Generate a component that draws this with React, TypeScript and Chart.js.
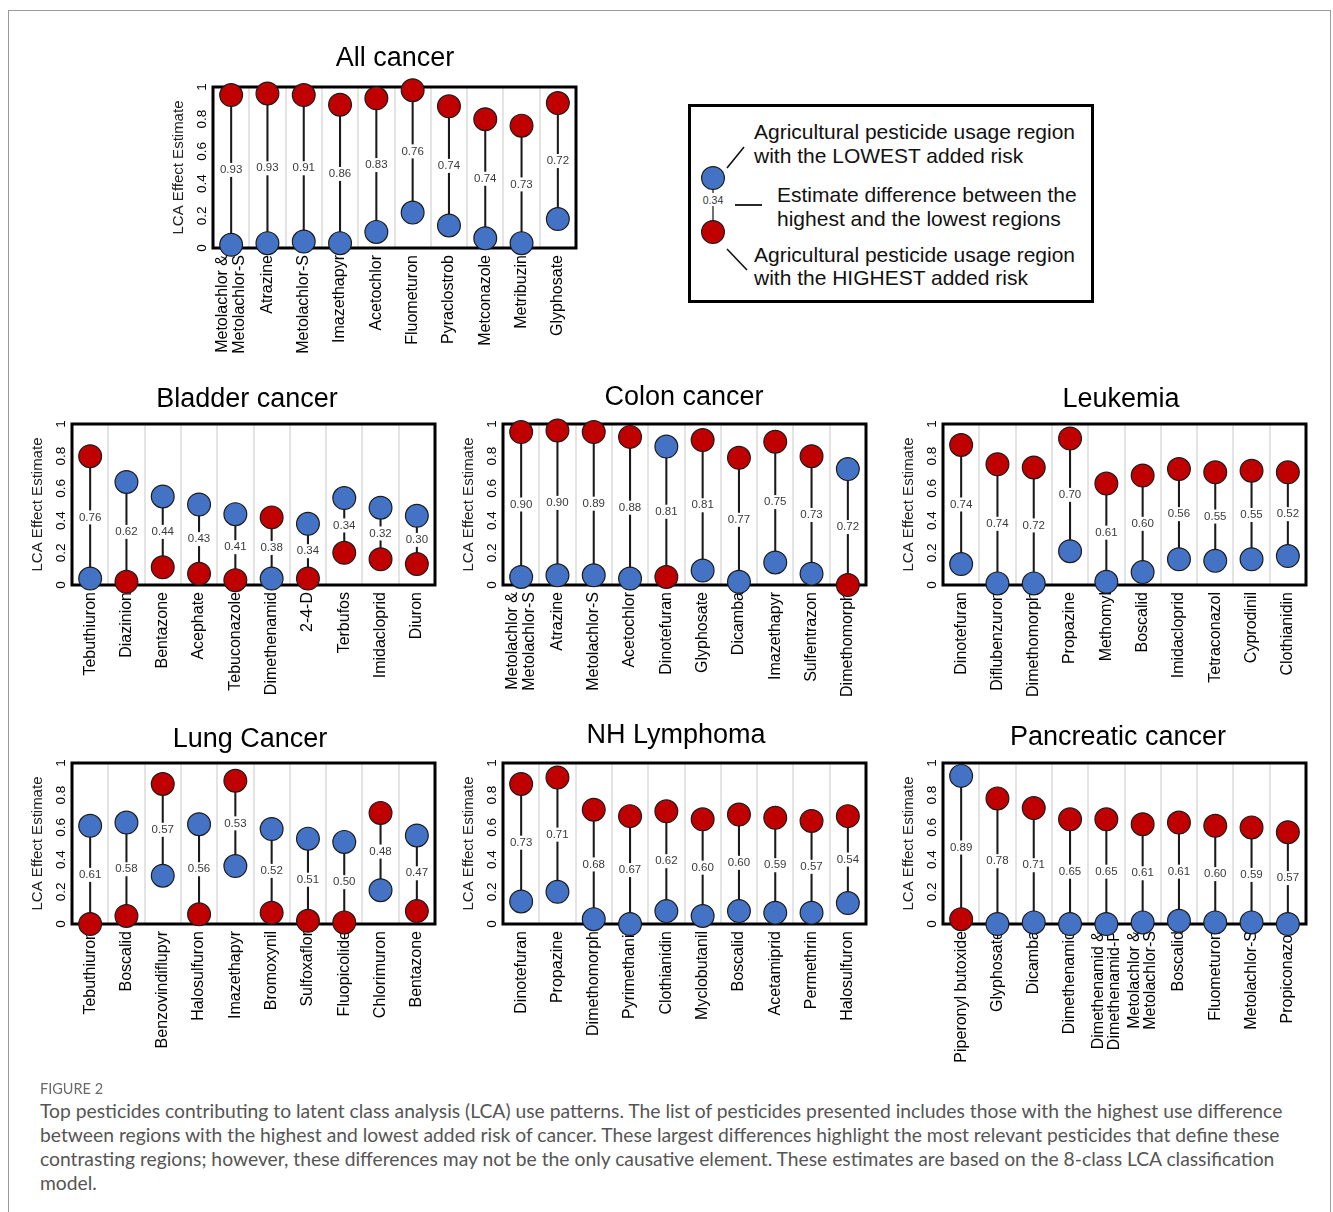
import { useEffect, useRef } from 'react';
import { Chart, registerables } from 'chart.js';

Chart.register(...registerables);

const FONT = "'Liberation Sans', Arial, Helvetica, sans-serif";
Chart.defaults.font.family = FONT;

type Label = string | string[];

const BLUE = '#4472C4'; // region with the lowest added risk
const RED = '#C00000'; // region with the highest added risk

// ---- All cancer ----
const allLabels: Label[] = [['Metolachlor &', 'Metolachlor-S'], 'Atrazine', 'Metolachlor-S', 'Imazethapyr', 'Acetochlor', 'Fluometuron', 'Pyraclostrob', 'Metconazole', 'Metribuzin', 'Glyphosate'];
const allLow = [0.02, 0.03, 0.04, 0.03, 0.1, 0.22, 0.14, 0.06, 0.03, 0.18];
const allHigh = [0.95, 0.96, 0.95, 0.89, 0.93, 0.98, 0.88, 0.8, 0.76, 0.9];
const allDiff = [0.93, 0.93, 0.91, 0.86, 0.83, 0.76, 0.74, 0.74, 0.73, 0.72];

// ---- Bladder cancer ----
const bladderLabels: Label[] = ['Tebuthiuron', 'Diazinion', 'Bentazone', 'Acephate', 'Tebuconazole', 'Dimethenamid', '2-4-D', 'Terbufos', 'Imidacloprid', 'Diuron'];
const bladderLow = [0.04, 0.64, 0.55, 0.5, 0.44, 0.04, 0.38, 0.54, 0.48, 0.43];
const bladderHigh = [0.8, 0.02, 0.11, 0.07, 0.03, 0.42, 0.04, 0.2, 0.16, 0.13];
const bladderDiff = [0.76, 0.62, 0.44, 0.43, 0.41, 0.38, 0.34, 0.34, 0.32, 0.3];

// ---- Colon cancer ----
const colonLabels: Label[] = [['Metolachlor &', 'Metolachlor-S'], 'Atrazine', 'Metolachlor-S', 'Acetochlor', 'Dinotefuran', 'Glyphosate', 'Dicamba', 'Imazethapyr', 'Sulfentrazon', 'Dimethomorph'];
const colonLow = [0.05, 0.06, 0.06, 0.04, 0.86, 0.09, 0.02, 0.14, 0.07, 0.72];
const colonHigh = [0.95, 0.96, 0.95, 0.92, 0.05, 0.9, 0.79, 0.89, 0.8, 0.0];
const colonDiff = [0.9, 0.9, 0.89, 0.88, 0.81, 0.81, 0.77, 0.75, 0.73, 0.72];

// ---- Leukemia ----
const leukLabels: Label[] = ['Dinotefuran', 'Diflubenzuron', 'Dimethomorph', 'Propazine', 'Methomyl', 'Boscalid', 'Imidacloprid', 'Tetraconazol', 'Cyprodinil', 'Clothianidin'];
const leukLow = [0.13, 0.01, 0.01, 0.21, 0.02, 0.08, 0.16, 0.15, 0.16, 0.18];
const leukHigh = [0.87, 0.75, 0.73, 0.91, 0.63, 0.68, 0.72, 0.7, 0.71, 0.7];
const leukDiff = [0.74, 0.74, 0.72, 0.7, 0.61, 0.6, 0.56, 0.55, 0.55, 0.52];

// ---- Lung Cancer ----
const lungLabels: Label[] = ['Tebuthiuron', 'Boscalid', 'Benzovindiflupyr', 'Halosulfuron', 'Imazethapyr', 'Bromoxynil', 'Sulfoxaflor', 'Fluopicolide', 'Chlorimuron', 'Bentazone'];
const lungLow = [0.61, 0.63, 0.3, 0.62, 0.36, 0.59, 0.53, 0.51, 0.21, 0.55];
const lungHigh = [0.0, 0.05, 0.87, 0.06, 0.89, 0.07, 0.02, 0.01, 0.69, 0.08];
const lungDiff = [0.61, 0.58, 0.57, 0.56, 0.53, 0.52, 0.51, 0.5, 0.48, 0.47];

// ---- NH Lymphoma ----
const nhLabels: Label[] = ['Dinotefuran', 'Propazine', 'Dimethomorph', 'Pyrimethanil', 'Clothianidin', 'Myclobutanil', 'Boscalid', 'Acetamiprid', 'Permethrin', 'Halosulfuron'];
const nhLow = [0.14, 0.2, 0.03, 0.0, 0.08, 0.05, 0.08, 0.07, 0.07, 0.13];
const nhHigh = [0.87, 0.91, 0.71, 0.67, 0.7, 0.65, 0.68, 0.66, 0.64, 0.67];
const nhDiff = [0.73, 0.71, 0.68, 0.67, 0.62, 0.6, 0.6, 0.59, 0.57, 0.54];

// ---- Pancreatic cancer ----
const pancLabels: Label[] = ['Piperonyl butoxide', 'Glyphosate', 'Dicamba', 'Dimethenamid', ['Dimethenamid &', 'Dimethenamid-P'], ['Metolachlor &', 'Metolachlor-S'], 'Boscalid', 'Fluometuron', 'Metolachlor-S', 'Propiconazol'];
const pancLow = [0.92, 0.0, 0.01, 0.0, 0.0, 0.01, 0.02, 0.01, 0.01, 0.0];
const pancHigh = [0.03, 0.78, 0.72, 0.65, 0.65, 0.62, 0.63, 0.61, 0.6, 0.57];
const pancDiff = [0.89, 0.78, 0.71, 0.65, 0.65, 0.61, 0.61, 0.6, 0.59, 0.57];

const yTicks = [0, 0.2, 0.4, 0.6, 0.8, 1];

// layout of one panel (plot box size, room for axes)
const BOX_W = 363;
const BOX_H = 161;
const Y_AXIS_W = 45;
const X_AXIS_H = 150;
const TITLE_SIZE = 27;

interface PanelProps {
  title: string;
  labels: Label[];
  low: number[];
  high: number[];
  diff: number[];
  left: number;
  top: number;
  titleX: number;
  titleY: number;
}

const Panel = ({ title, labels, low, high, diff, left, top, titleX, titleY }: PanelProps) => {
  const canvasRef = useRef<HTMLCanvasElement>(null);
  const chartRef = useRef<Chart | null>(null);

  const canvasLeft = Math.round(left - Y_AXIS_W);
  const canvasTop = Math.round(titleY - TITLE_SIZE * 0.6);
  const width = Math.round(2 * (titleX - canvasLeft));
  const height = Math.round(top - canvasTop + BOX_H + X_AXIS_H);

  useEffect(() => {
    if (!canvasRef.current) return;
    const padRight = width - Y_AXIS_W - BOX_W;
    const titleGap = top - canvasTop - TITLE_SIZE * 1.2;

    // thick frame round the plot area, under the points
    const boxPlugin = {
      id: 'panelBox',
      beforeDatasetsDraw(chart: Chart) {
        const { ctx, chartArea: a } = chart;
        ctx.save();
        ctx.strokeStyle = '#000';
        ctx.lineWidth = 3;
        ctx.strokeRect(a.left, a.top, a.right - a.left, a.bottom - a.top);
        ctx.restore();
      },
    };

    // difference labels on the connecting lines (drawn before the circles)
    const diffPlugin = {
      id: 'diffLabels',
      afterDatasetDraw(chart: Chart, args: { index: number }) {
        if (args.index !== 0) return;
        const { ctx } = chart;
        const xs = chart.scales.x;
        const ys = chart.scales.y;
        ctx.save();
        ctx.font = `11.5px ${FONT}`;
        ctx.textAlign = 'center';
        ctx.textBaseline = 'middle';
        diff.forEach((d, i) => {
          const x = xs.getPixelForValue(i);
          const y = ys.getPixelForValue((low[i] + high[i]) / 2);
          const t = d.toFixed(2);
          const w = ctx.measureText(t).width + 2;
          ctx.fillStyle = '#fff';
          ctx.fillRect(x - w / 2, y - 7, w, 14);
          ctx.fillStyle = '#3a3a3a';
          ctx.fillText(t, x, y);
        });
        ctx.restore();
      },
    };

    // centre two-line rotated tick labels on their tick
    const centreLabels = {
      id: 'centreLabels',
      beforeDraw(chart: Chart) {
        const xs: any = chart.scales.x;
        xs.getLabelItems().forEach((it: any) => {
          if (Array.isArray(it.label) && it.label.length > 1 && !it._moved) {
            it.options.translation[0] -= ((it.label.length - 1) * it.font.lineHeight) / 2;
            it._moved = true;
          }
        });
      },
    };

    chartRef.current = new Chart(canvasRef.current, {
      type: 'bar',
      data: {
        labels,
        datasets: [
          {
            type: 'bar',
            data: low.map((v, i) => [v, high[i]]),
            backgroundColor: '#1a1a1a',
            borderWidth: 0,
            barThickness: 1.4,
            order: 5,
          } as any,
          {
            type: 'line',
            data: high,
            showLine: false,
            pointRadius: 11.4,
            pointHoverRadius: 11.4,
            pointBackgroundColor: RED,
            pointBorderColor: '#1c1c1c',
            pointBorderWidth: 1.2,
            clip: false,
            order: 2,
          },
          {
            type: 'line',
            data: low,
            showLine: false,
            pointRadius: 11.4,
            pointHoverRadius: 11.4,
            pointBackgroundColor: BLUE,
            pointBorderColor: '#1c1c1c',
            pointBorderWidth: 1.2,
            clip: false,
            order: 1,
          },
        ],
      },
      options: {
        responsive: false,
        animation: false,
        events: [],
        layout: { autoPadding: false, padding: 0 },
        plugins: {
          legend: { display: false },
          tooltip: { enabled: false },
          title: {
            display: true,
            text: title,
            color: '#000',
            font: { size: TITLE_SIZE, weight: 'normal', lineHeight: 1.2 },
            padding: { top: 0, bottom: titleGap },
          },
        },
        scales: {
          x: {
            type: 'category',
            offset: true,
            grid: { offset: true, color: '#e4e4e4', lineWidth: 2, drawTicks: false },
            border: { display: false },
            ticks: {
              autoSkip: false,
              minRotation: 90,
              maxRotation: 90,
              padding: 7,
              color: '#000',
              font: { size: 16, lineHeight: 1.02 },
            },
            afterFit: (s: any) => {
              s.height = X_AXIS_H;
            },
          },
          y: {
            type: 'linear',
            min: 0,
            max: 1,
            grid: { display: false, drawTicks: false },
            border: { display: false },
            afterBuildTicks: (s: any) => {
              s.ticks = yTicks.map((v) => ({ value: v }));
            },
            ticks: {
              minRotation: 90,
              maxRotation: 90,
              crossAlign: 'center',
              padding: 1.5,
              color: '#000',
              font: { size: 13.5 },
              callback: (v: any) => String(Number(Number(v).toFixed(1))),
            },
            title: {
              display: true,
              text: 'LCA Effect Estimate',
              color: '#222',
              font: { size: 15, lineHeight: 1.2 },
              padding: { top: 1.5, bottom: 0 },
            },
            afterFit: (s: any) => {
              s.width = Y_AXIS_W;
            },
          },
          pad: {
            type: 'linear',
            position: 'right',
            grid: { display: false, drawTicks: false },
            border: { display: false },
            ticks: { display: false },
            afterFit: (s: any) => {
              s.width = padRight;
            },
          },
        },
      },
      plugins: [boxPlugin, diffPlugin, centreLabels],
    });

    return () => {
      if (chartRef.current) {
        chartRef.current.destroy();
        chartRef.current = null;
      }
    };
  }, [title, labels, low, high, diff, left, top, titleX, titleY, width, height, canvasLeft, canvasTop]);

  return (
    <canvas
      ref={canvasRef}
      width={width}
      height={height}
      style={{ position: 'absolute', left: canvasLeft, top: canvasTop }}
    />
  );
};

const Legend = () => {
  const text = { fontFamily: FONT, fontSize: 21, fill: '#111' };
  return (
    <svg
      width={1333}
      height={320}
      style={{ position: 'absolute', left: 0, top: 0, pointerEvents: 'none' }}
    >
      <rect x={689.5} y={105.5} width={403} height={196} fill="#fff" stroke="#000" strokeWidth={3} />
      <line x1={727} y1={168} x2={744} y2={147} stroke="#111" strokeWidth={1.6} />
      <line x1={727} y1={249} x2={747} y2={270} stroke="#111" strokeWidth={1.6} />
      <line x1={735} y1={205} x2={762} y2={205} stroke="#111" strokeWidth={1.8} />
      <line x1={713} y1={178} x2={713} y2={232} stroke="#111" strokeWidth={1.2} />
      <rect x={700} y={193} width={26} height={13} fill="#fff" />
      <text x={713} y={203.5} textAnchor="middle" style={{ fontFamily: FONT, fontSize: 10.5, fill: '#333' }}>
        0.34
      </text>
      <circle cx={713} cy={178} r={11.4} fill={BLUE} stroke="#1c1c1c" strokeWidth={1.2} />
      <circle cx={713} cy={232} r={11.4} fill={RED} stroke="#1c1c1c" strokeWidth={1.2} />
      <text x={754} y={139} style={text}>Agricultural pesticide usage region</text>
      <text x={754} y={162.5} style={text}>with the LOWEST added risk</text>
      <text x={777} y={201.5} style={text}>Estimate difference between the</text>
      <text x={777} y={225.5} style={text}>highest and the lowest regions</text>
      <text x={754} y={261.5} style={text}>Agricultural pesticide usage region</text>
      <text x={754} y={285} style={text}>with the HIGHEST added risk</text>
    </svg>
  );
};

const captionLines = [
  'Top pesticides contributing to latent class analysis (LCA) use patterns. The list of pesticides presented includes those with the highest use difference',
  'between regions with the highest and lowest added risk of cancer. These largest differences highlight the most relevant pesticides that define these',
  'contrasting regions; however, these differences may not be the only causative element. These estimates are based on the 8-class LCA classification',
  'model.',
];

export default function App() {
  return (
    <div
      style={{
        position: 'absolute',
        left: 0,
        top: 0,
        width: 1333,
        height: 1212,
        overflow: 'hidden',
        background: '#fff',
      }}
    >
      <div
        style={{
          position: 'absolute',
          left: 8,
          top: 10,
          width: 1321,
          height: 1240,
          border: '1px solid #9a9a9a',
        }}
      />
      <Panel title="All cancer" labels={allLabels} low={allLow} high={allHigh} diff={allDiff} left={213} top={87} titleX={395} titleY={58} />
      <Legend />
      <Panel title="Bladder cancer" labels={bladderLabels} low={bladderLow} high={bladderHigh} diff={bladderDiff} left={72} top={424} titleX={247} titleY={399} />
      <Panel title="Colon cancer" labels={colonLabels} low={colonLow} high={colonHigh} diff={colonDiff} left={503} top={424} titleX={684} titleY={397} />
      <Panel title="Leukemia" labels={leukLabels} low={leukLow} high={leukHigh} diff={leukDiff} left={943} top={424} titleX={1121} titleY={399} />
      <Panel title="Lung Cancer" labels={lungLabels} low={lungLow} high={lungHigh} diff={lungDiff} left={72} top={763} titleX={250} titleY={739} />
      <Panel title="NH Lymphoma" labels={nhLabels} low={nhLow} high={nhHigh} diff={nhDiff} left={503} top={763} titleX={676} titleY={735} />
      <Panel title="Pancreatic cancer" labels={pancLabels} low={pancLow} high={pancHigh} diff={pancDiff} left={943} top={763} titleX={1118} titleY={737} />
      <div
        style={{
          position: 'absolute',
          left: 40,
          top: 1079,
          fontFamily: 'Lato, "Open Sans", sans-serif',
          fontSize: 14.5,
          color: '#6a6a6a',
          lineHeight: '20px',
        }}
      >
        FIGURE 2
      </div>
      <div
        style={{
          position: 'absolute',
          left: 40,
          top: 1099,
          fontFamily: 'Lato, "Open Sans", sans-serif',
          fontSize: 19.3,
          color: '#555',
          lineHeight: '24px',
          whiteSpace: 'nowrap',
        }}
      >
        {captionLines.map((l) => (
          <div key={l}>{l}</div>
        ))}
      </div>
    </div>
  );
}
